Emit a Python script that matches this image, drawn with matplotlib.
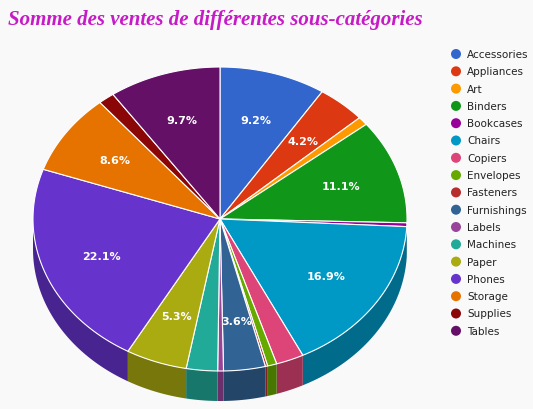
import numpy as np
import matplotlib
matplotlib.use("Agg")
import matplotlib.pyplot as plt
from matplotlib.patches import Polygon, Circle
import matplotlib.colors as mc

categories = ["Accessories","Appliances","Art","Binders","Bookcases","Chairs","Copiers",
              "Envelopes","Fasteners","Furnishings","Labels","Machines","Paper","Phones",
              "Storage","Supplies","Tables"]
values = [9.2,4.2,0.9,11.1,0.4,16.9,2.4,0.8,0.2,3.6,0.5,2.7,5.3,22.1,8.6,1.4,9.7]
colors = ["#3366cc","#dc3912","#ff9900","#109618","#990099","#0099c6","#dd4477","#66aa00",
          "#b82e2e","#316395","#994499","#22aa99","#aaaa11","#6633cc","#e67300","#8b0707","#651067"]
title = "Somme des ventes de différentes sous-catégories"

fig = plt.figure(figsize=(5.33, 4.1), dpi=100)
fig.patch.set_facecolor("#f9f9f9")
ax = fig.add_axes([0, 0, 1, 1])
ax.set_xlim(0, 533); ax.set_ylim(410, 0); ax.axis("off")

cx, cy, rx, ry, depth = 220, 220, 187, 152, 30
def pt(a, r=1.0, dz=0):
    # a: radians clockwise from top
    return cx + r*rx*np.sin(a), cy - r*ry*np.cos(a) + dz

def darker(c, f=0.7):
    r, g, b = mc.to_rgb(c)
    return (r*f, g*f, b*f)

total = sum(values)
fr = np.cumsum([0] + values) / total * 2*np.pi
# side walls (front half: a in [pi/2, 3pi/2])
for i in range(len(values)):
    a1, a2 = max(fr[i], np.pi/2), min(fr[i+1], 3*np.pi/2)
    if a2 <= a1: continue
    t = np.linspace(a1, a2, 60)
    top = [pt(a) for a in t]
    bot = [pt(a, dz=depth) for a in t[::-1]]
    ax.add_patch(Polygon(top+bot, closed=True, fc=darker(colors[i]), ec="none"))
# top faces
for i in range(len(values)):
    t = np.linspace(fr[i], fr[i+1], 100)
    poly = [(cx, cy)] + [pt(a) for a in t]
    ax.add_patch(Polygon(poly, closed=True, fc=colors[i], ec="white", lw=0.8))
    if values[i] >= 3.5:
        m = (fr[i]+fr[i+1])/2
        x, y = pt(m, 0.68)
        ax.text(x, y, f"{values[i]:.1f}%", color="white", fontsize=8, fontweight="bold",
                ha="center", va="center")

ax.text(8, 20, title, fontsize=15, fontstyle="italic", fontweight="bold",
        family="Liberation Serif", color="#c61ac6", ha="left", va="center")

for i, c in enumerate(categories):
    y = 55 + i*17.3
    ax.add_patch(Circle((456, y), 5, fc=colors[i], ec="none"))
    ax.text(467, y, c, fontsize=7.5, va="center", ha="left", color="#222222")

fig.savefig("out.png", dpi=100, facecolor=fig.get_facecolor())
